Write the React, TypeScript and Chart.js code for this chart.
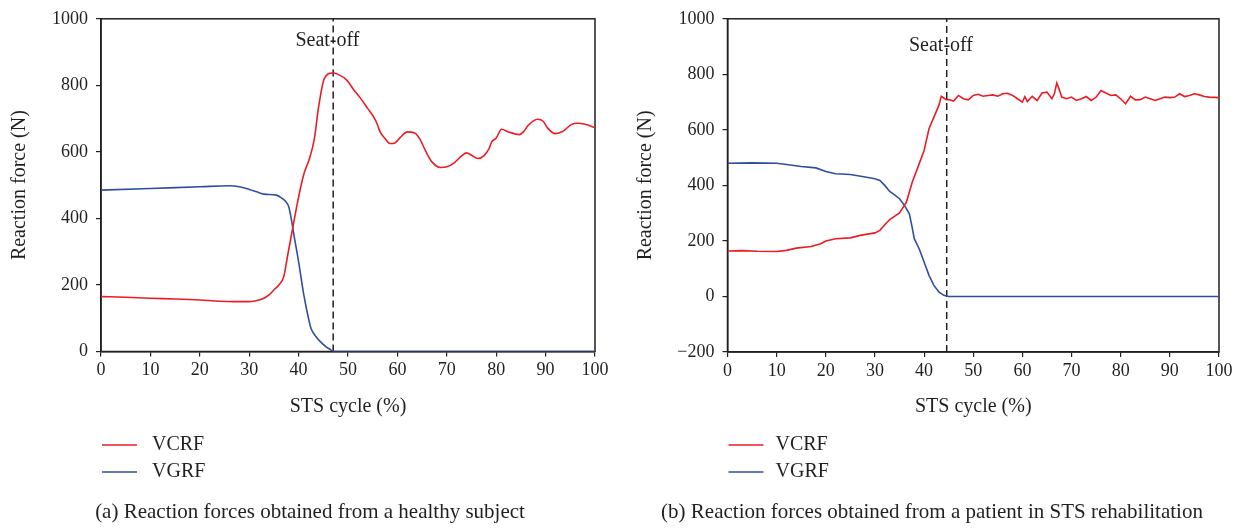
import React, { useEffect, useRef } from "react";
import { Chart, registerables } from "chart.js";

Chart.register(...registerables);

const FONT = "'Liberation Serif', 'Times New Roman', Times, serif";
const INK = "#231f20";
const RED = "#ec1c24";
const BLUE = "#2f4ea2";

// Axis settings
const X_MIN = 0;
const X_MAX = 100;
const X_STEP = 10;
const Y_STEP = 200;
const healthyYRange = [0, 1000];
const patientYRange = [-200, 1000];
const xTitle = "STS cycle (%)";
const yTitle = "Reaction force (N)";

const seriesLabels = ["VCRF", "VGRF"];
const seatLabel = "Seat-off";
const healthySeatOff = 47;
const patientSeatOff = 44.6;

const captions = [
  "(a) Reaction forces obtained from a healthy subject",
  "(b) Reaction forces obtained from a patient in STS rehabilitation",
];

// (a) healthy subject
const healthyVcrfX = [0, 5, 10, 15, 20, 24, 27, 30, 32, 33, 34, 35, 36, 37, 37.8, 38.8, 39.8, 41, 42.2, 43.2, 44, 45.2, 46.8, 48, 49.8, 51, 52.6, 54, 55.4, 56, 56.5, 57.5, 58.5, 59.5, 60.5, 62, 63.5, 64.5, 65.8, 67, 68.7, 70, 71.5, 73, 74, 75, 76.3, 77.5, 78.5, 79.1, 80, 81.1, 82.5, 84.7, 85.5, 86.5, 88.4, 89.5, 90.5, 92, 93.5, 95.2, 96.5, 98, 100];
const healthyVcrfY = [165, 163, 160, 158, 155, 151, 150, 150, 155, 160, 170, 185, 200, 225, 290, 370, 450, 530, 580, 640, 730, 820, 837, 833, 815, 790, 760, 730, 700, 680, 660, 640, 625, 627, 642, 660, 657, 640, 600, 570, 553, 555, 567, 588, 597, 590, 580, 588, 608, 630, 642, 668, 660, 652, 660, 680, 698, 692, 670, 655, 662, 682, 686, 683, 673];

const healthyVgrfX = [0, 10, 20, 26, 28, 30, 31.5, 33, 35.5, 36.5, 37.3, 38, 38.5, 39, 40, 41, 42, 42.5, 43.5, 44.5, 45.5, 46.5, 47, 100];
const healthyVgrfY = [485, 490, 495, 498, 495, 487, 480, 473, 470, 462, 452, 435, 400, 355, 270, 175, 100, 70, 45, 28, 15, 5, 0, 0];

// (b) patient in STS rehabilitation
const patientVcrfX = [0, 3, 6, 10, 12, 14, 17, 19, 20, 22, 25, 27, 30, 31, 32, 33, 35, 36.4, 37.6, 38.5, 40, 41, 42, 43, 43.5, 44.5, 45, 46, 47, 48, 49, 50, 51, 52, 53, 54, 55, 56, 57, 58, 59, 60, 60.5, 61, 62, 63, 64, 65, 66, 66.5, 67, 67.5, 68, 69, 70, 71, 72, 73, 74, 75, 76, 77, 78, 79, 80, 81, 82, 83, 84, 85, 86, 87, 88, 89, 90, 91, 92, 93, 94, 95, 96, 97, 98, 100];
const patientVcrfY = [164, 165, 163, 162, 166, 174, 180, 190, 200, 208, 211, 220, 229, 238, 258, 277, 301, 340, 412, 454, 526, 604, 646, 688, 721, 709, 709, 704, 724, 712, 708, 724, 728, 721, 724, 726, 721, 730, 732, 724, 712, 700, 720, 702, 721, 706, 733, 736, 712, 730, 769, 745, 718, 712, 718, 706, 712, 720, 706, 718, 742, 733, 724, 726, 712, 694, 721, 708, 709, 718, 712, 706, 712, 718, 716, 718, 730, 720, 724, 730, 726, 720, 718, 716];

const patientVgrfX = [0, 5, 10, 12, 15, 18, 20, 22, 25, 28, 30, 31, 32, 33, 34, 35, 36, 37, 37.5, 38, 39, 40, 41, 42, 43, 44, 45, 100];
const patientVgrfY = [480, 481, 480, 475, 468, 463, 450, 442, 439, 430, 424, 418, 400, 378, 366, 352, 328, 298, 255, 208, 172, 124, 76, 40, 16, 4, 0, 0];

const pts = (xs: number[], ys: number[]) => xs.map((x, i) => ({ x, y: ys[i] }));

const decorPlugin = {
  id: "decor",
  beforeDatasetsDraw(chart: any) {
    const { ctx, chartArea: a } = chart;
    ctx.save();
    ctx.strokeStyle = INK;
    ctx.lineWidth = 1.5;
    ctx.strokeRect(a.left, a.top, a.right - a.left, a.bottom - a.top);
    ctx.restore();
  },
  afterDatasetsDraw(chart: any, _args: any, opts: any) {
    const { ctx, chartArea: a, scales } = chart;
    ctx.save();
    ctx.fillStyle = INK;
    ctx.font = `20px ${FONT}`;
    ctx.textBaseline = "middle";
    const seatDs = chart.data.datasets.find((d: any) => d.label === seatLabel);
    if (seatDs) {
      const px = scales.x.getPixelForValue(seatDs.data[0].x);
      const hy = seatLabel.indexOf("-");
      const before = ctx.measureText(seatLabel.slice(0, hy)).width + ctx.measureText("-").width / 2;
      ctx.textAlign = "left";
      ctx.fillText(seatLabel, px - before, a.top + opts.seatDy);
    }
    const items = chart.data.datasets.filter((d: any) => d.label !== seatLabel);
    items.forEach((d: any, i: number) => {
      const y = opts.legendTop + i * opts.legendGap;
      ctx.strokeStyle = d.borderColor;
      ctx.lineWidth = 1.5;
      ctx.beginPath();
      ctx.moveTo(a.left + 1, y);
      ctx.lineTo(a.left + 36, y);
      ctx.stroke();
      ctx.textAlign = "left";
      ctx.fillText(d.label, a.left + opts.legendTextDx, y);
    });
    ctx.font = `21px ${FONT}`;
    ctx.textAlign = "center";
    ctx.fillText(opts.caption, chart.width / 2, opts.captionY);
    ctx.restore();
  },
};

function makeConfig(p: any): any {
  const [yMin, yMax] = p.yRange;
  return {
    type: "line",
    data: {
      datasets: [
        {
          label: seriesLabels[0],
          data: pts(p.vcrfX, p.vcrfY),
          borderColor: RED,
          borderWidth: 1.6,
          pointRadius: 0,
          cubicInterpolationMode: p.smooth ? "monotone" : "default",
          tension: 0,
        },
        {
          label: seriesLabels[1],
          data: pts(p.vgrfX, p.vgrfY),
          borderColor: BLUE,
          borderWidth: 1.6,
          pointRadius: 0,
          cubicInterpolationMode: p.smooth ? "monotone" : "default",
          tension: 0,
        },
        {
          label: seatLabel,
          data: [
            { x: p.seatOff, y: yMin },
            { x: p.seatOff, y: yMax },
          ],
          borderColor: INK,
          borderWidth: 1.5,
          borderDash: [7, 4],
          pointRadius: 0,
        },
      ],
    },
    options: {
      responsive: false,
      animation: false,
      events: [],
      layout: { padding: { left: 0, right: p.padRight, top: p.padTop, bottom: p.padBottom } },
      plugins: {
        legend: { display: false },
        tooltip: { enabled: false },
        decor: {
          seatDy: p.seatDy,
          legendTop: 445,
          legendGap: 27,
          legendTextDx: p.legendTextDx,
          caption: p.caption,
          captionY: 512,
        },
      },
      scales: {
        x: {
          type: "linear",
          min: X_MIN,
          max: X_MAX,
          ticks: {
            stepSize: X_STEP,
            color: INK,
            font: { size: 18, family: FONT },
            padding: 3,
            maxRotation: 0,
            autoSkip: false,
          },
          grid: { display: true, drawOnChartArea: false, drawTicks: true, tickLength: 5, color: INK, lineWidth: 1.2 },
          border: { display: true, color: INK, width: 1.5 },
          title: {
            display: true,
            text: xTitle,
            color: INK,
            font: { size: 20, family: FONT },
            padding: { top: 0, bottom: 0 },
          },
          afterFit: (s: any) => {
            s.height = 67;
          },
        },
        y: {
          type: "linear",
          min: yMin,
          max: yMax,
          ticks: {
            stepSize: Y_STEP,
            color: INK,
            font: { size: 18, family: FONT },
            padding: 8,
            callback: (v: any) => String(v).replace("-", "\u2212"),
          },
          grid: { display: true, drawOnChartArea: false, drawTicks: true, tickLength: 5, color: INK, lineWidth: 1.2 },
          border: { display: true, color: INK, width: 1.5 },
          title: {
            display: true,
            text: yTitle,
            color: INK,
            font: { size: 20, family: FONT },
            padding: { top: p.yTitlePad, bottom: 0 },
          },
          afterFit: (s: any) => {
            s.width = p.yWidth;
          },
        },
      },
    },
    plugins: [decorPlugin],
  };
}

function ChartCanvas({ config, left, width }: { config: any; left: number; width: number }) {
  const ref = useRef<HTMLCanvasElement>(null);
  useEffect(() => {
    const chart = new Chart(ref.current as HTMLCanvasElement, config);
    return () => chart.destroy();
  }, []);
  return (
    <canvas
      ref={ref}
      width={width}
      height={528}
      style={{ position: "absolute", left, top: 0, width, height: 528 }}
    />
  );
}

export default function App() {
  const healthy = makeConfig({
    vcrfX: healthyVcrfX,
    vcrfY: healthyVcrfY,
    vgrfX: healthyVgrfX,
    vgrfY: healthyVgrfY,
    seatOff: healthySeatOff,
    yRange: healthyYRange,
    smooth: true,
    padRight: 25,
    padTop: 17,
    padBottom: 109.5,
    yWidth: 101,
    yTitlePad: 8,
    seatDy: 22,
    legendTextDx: 51,
    caption: captions[0],
  });
  const patient = makeConfig({
    vcrfX: patientVcrfX,
    vcrfY: patientVcrfY,
    vgrfX: patientVgrfX,
    vgrfY: patientVgrfY,
    seatOff: patientSeatOff,
    yRange: patientYRange,
    smooth: false,
    padRight: 25,
    padTop: 17,
    padBottom: 109,
    yWidth: 107.5,
    yTitlePad: 14,
    seatDy: 27,
    legendTextDx: 48,
    caption: captions[1],
  });
  return (
    <div style={{ position: "absolute", left: 0, top: 0, width: 1244, height: 528, background: "#fff" }}>
      <ChartCanvas config={healthy} left={0} width={620} />
      <ChartCanvas config={patient} left={620} width={624} />
    </div>
  );
}
